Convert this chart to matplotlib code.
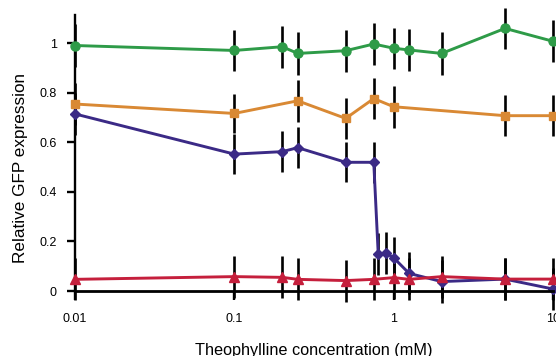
import matplotlib
matplotlib.use("Agg")
import matplotlib.pyplot as plt
from matplotlib.ticker import FixedLocator, NullLocator

plt.rcParams["font.family"] = ["Liberation Sans", "DejaVu Sans"]

# theophylline concentration (mM) and relative GFP expression, per construct
x_green = [0.01, 0.1, 0.2, 0.25, 0.5, 0.75, 1, 1.25, 2, 5, 10]
y_green = [0.99, 0.97, 0.985, 0.958, 0.969, 0.996, 0.979, 0.972, 0.958, 1.059, 1.007]
e_green = [0.085, 0.083, 0.085, 0.085, 0.085, 0.085, 0.083, 0.083, 0.085, 0.084, 0.084]

x_orange = [0.01, 0.1, 0.25, 0.5, 0.75, 1, 5, 10]
y_orange = [0.754, 0.716, 0.767, 0.696, 0.776, 0.743, 0.707, 0.707]
e_orange = [0.084, 0.080, 0.084, 0.084, 0.084, 0.084, 0.083, 0.083]

x_purple = [0.01, 0.1, 0.2, 0.25, 0.5, 0.75, 0.8, 0.9, 1, 1.25, 2, 5, 10]
y_purple = [0.714, 0.552, 0.562, 0.578, 0.519, 0.519, 0.149, 0.152, 0.134, 0.071, 0.038, 0.048, 0.008]
e_purple = [0.085, 0.080, 0.084, 0.083, 0.080, 0.083, 0.084, 0.084, 0.084, 0.085, 0.085, 0.085, 0.085]

x_red = [0.01, 0.1, 0.2, 0.25, 0.5, 0.75, 1, 1.25, 2, 5, 10]
y_red = [0.047, 0.058, 0.055, 0.047, 0.042, 0.047, 0.054, 0.047, 0.058, 0.048, 0.048]
e_red = [0.085, 0.085, 0.085, 0.085, 0.085, 0.085, 0.085, 0.085, 0.085, 0.085, 0.085]

series = [
    (x_green, y_green, e_green, "#2e9b48", "o", 6.5),
    (x_orange, y_orange, e_orange, "#d98934", "s", 5.5),
    (x_purple, y_purple, e_purple, "#3b2a86", "D", 5),
    (x_red, y_red, e_red, "#c51f3c", "^", 6.5),
]

fig = plt.figure(figsize=(5.56, 3.56), dpi=100)
ax = fig.add_axes([75 / 556, 65 / 356, 478 / 556, 276 / 356])

for xs, ys, es, col, mk, ms in series:
    eb = ax.errorbar(xs, ys, yerr=es, fmt="none", ecolor="black", elinewidth=1.9,
                     capsize=0, zorder=2)
    for art in eb.lines[2]:
        art.set_clip_on(False)
    ax.plot(xs, ys, color=col, lw=2.1, marker=mk, ms=ms, mec=col, mfc=col,
            zorder=3, clip_on=False)

ax.set_xscale("log")
ax.set_xlim(0.01, 10)
ax.set_ylim(0, 1.113)
ax.xaxis.set_major_locator(FixedLocator([0.01, 0.1, 1, 10]))
ax.xaxis.set_minor_locator(NullLocator())
ax.set_xticklabels(["0.01", "0.1", "1", "10"])
ax.set_yticks([0, 0.2, 0.4, 0.6, 0.8, 1])
ax.set_yticklabels(["0", "0.2", "0.4", "0.6", "0.8", "1"])

for s in ["top", "right"]:
    ax.spines[s].set_visible(False)
ax.spines["left"].set_linewidth(1.7)
ax.spines["bottom"].set_linewidth(2)
ax.spines["bottom"].set_zorder(4)
ax.tick_params(axis="y", direction="out", length=6, width=1.7, pad=7, labelsize=9)
ax.tick_params(axis="x", direction="out", length=6.5, width=1.7, pad=9, labelsize=9)

ax.set_ylabel("Relative GFP expression", fontsize=12.3)
ax.yaxis.set_label_coords(-0.098, 0.445)
ax.set_xlabel("Theophylline concentration (mM)", fontsize=11.7, labelpad=13.5)

fig.savefig("out.png", dpi=100)
